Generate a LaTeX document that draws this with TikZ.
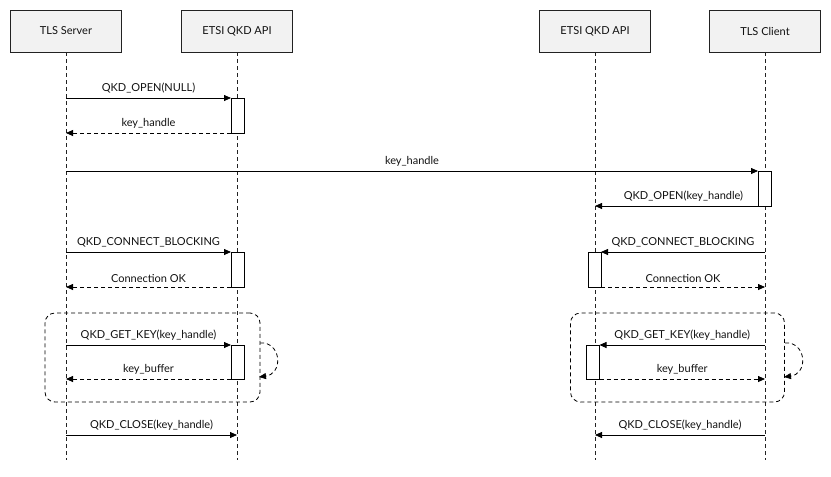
\documentclass[tikz,border=0pt]{standalone}
\usepackage{fontspec}
\setmainfont{Lato}
\usetikzlibrary{arrows.meta}
\definecolor{boxfill}{HTML}{F2F2F2}
\definecolor{boxline}{HTML}{222222}
\definecolor{txt}{HTML}{111111}
\begin{document}
\begin{tikzpicture}[x=1pt,y=-1pt,
  font=\fontsize{11}{13}\selectfont, text=txt,
  actor/.style={draw=boxline, fill=boxfill, minimum width=111pt, minimum height=42pt, inner sep=0pt, line width=0.7pt},
  life/.style={draw=boxline, line width=0.7pt, dash pattern=on 4pt off 3pt},
  actbox/.style={draw=black, fill=white, minimum width=13pt, inner sep=0pt, outer sep=0pt, line width=0.8pt},
  msg/.style={draw=black, line width=0.8pt, -{Triangle[length=7pt,width=6pt]}},
  ret/.style={msg, dash pattern=on 4pt off 3pt},
  frameb/.style={draw=black, line width=0.8pt, dash pattern=on 4pt off 3pt, rounded corners=10pt, minimum height=89pt, inner sep=0pt},
  lbl/.style={midway, above=4pt, inner sep=0pt}
]
\useasboundingbox (0,0) rectangle (831,477);

% participants
\node[actor] (srv) at (66,31) {TLS Server};
\node[actor] (apil) at (237,31) {ETSI QKD API};
\node[actor] (apir) at (595,31) {ETSI QKD API};
\node[actor] (cli) at (765,31) {TLS Client};

\coordinate (srvEnd) at (66,460);
\coordinate (apilEnd) at (237,460);
\coordinate (apirEnd) at (595,460);
\coordinate (cliEnd) at (765,460);
\draw[life] (srv.south) -- (srvEnd);
\draw[life] (apil.south) -- (apilEnd);
\draw[life] (apir.south) -- (apirEnd);
\draw[life] (cli.south) -- (cliEnd);

% loop frames (behind)
\node[frameb, minimum width=215pt] (f1) at (152.5,357.5) {};
\node[frameb, minimum width=214pt] (f2) at (677.5,357.5) {};

% activation boxes
\node[actbox, minimum height=35pt] (a1) at (237.5,115.5) {};
\node[actbox, minimum height=35pt] (a2) at (764.5,188.5) {};
\node[actbox, minimum height=35pt] (a3) at (237.5,269.5) {};
\node[actbox, minimum height=35pt] (a4) at (594.5,269.5) {};
\node[actbox, minimum height=34pt] (a5) at (237.5,362) {};
\node[actbox, minimum height=34pt] (a6) at (593,362) {};

% lifeline anchor points
\coordinate (s1) at (66,98);
\coordinate (s2) at (66,133);
\coordinate (s3) at (66,171);
\coordinate (r1) at (595,206);
\coordinate (s4) at (66,252);
\coordinate (s5) at (66,287);
\coordinate (c1) at (765,252);
\coordinate (c2) at (765,287);
\coordinate (s6) at (66,345);
\coordinate (s7) at (66,379);
\coordinate (c3) at (765,345);
\coordinate (c4) at (765,379);
\coordinate (s8) at (66,435);
\coordinate (l8) at (237,435);
\coordinate (c5) at (765,435);
\coordinate (r8) at (595,435);

% messages
\draw[msg] (s1) -- node[lbl] {QKD\_OPEN(NULL)} (a1.north west);
\draw[ret] (a1.south west) -- node[lbl] {key\_handle} (s2);
\draw[msg] (s3) -- node[lbl] {key\_handle} (a2.north west);
\draw[msg] (a2.south west) -- node[lbl, xshift=7pt] {QKD\_OPEN(key\_handle)} (r1);
\draw[msg] (s4) -- node[lbl] {QKD\_CONNECT\_BLOCKING} (a3.north west);
\draw[ret] (a3.south west) -- node[lbl] {Connection OK} (s5);
\draw[msg] (c1) -- node[lbl] {QKD\_CONNECT\_BLOCKING} (a4.north east);
\draw[ret] (a4.south east) -- node[lbl] {Connection OK} (c2);
\draw[msg] (s6) -- node[lbl] {QKD\_GET\_KEY(key\_handle)} (a5.north west);
\draw[ret] (a5.south west) -- node[lbl] {key\_buffer} (s7);
\draw[msg] (c3) -- node[lbl] {QKD\_GET\_KEY(key\_handle)} (a6.north east);
\draw[ret] (a6.south east) -- node[lbl] {key\_buffer} (c4);
\draw[msg] (s8) -- node[lbl] {QKD\_CLOSE(key\_handle)} (l8);
\draw[msg] (c5) -- node[lbl] {QKD\_CLOSE(key\_handle)} (r8);

% loop arrows
\coordinate (lp1a) at (260,343);
\coordinate (lp1b) at (259,377);
\coordinate (lp2a) at (785,343);
\coordinate (lp2b) at (784,377);
\draw[ret] (lp1a) -- (264,343) .. controls (282,346) and (282,374) .. (lp1b);
\draw[ret] (lp2a) -- (789,343) .. controls (807,346) and (807,374) .. (lp2b);
\end{tikzpicture}
\end{document}
